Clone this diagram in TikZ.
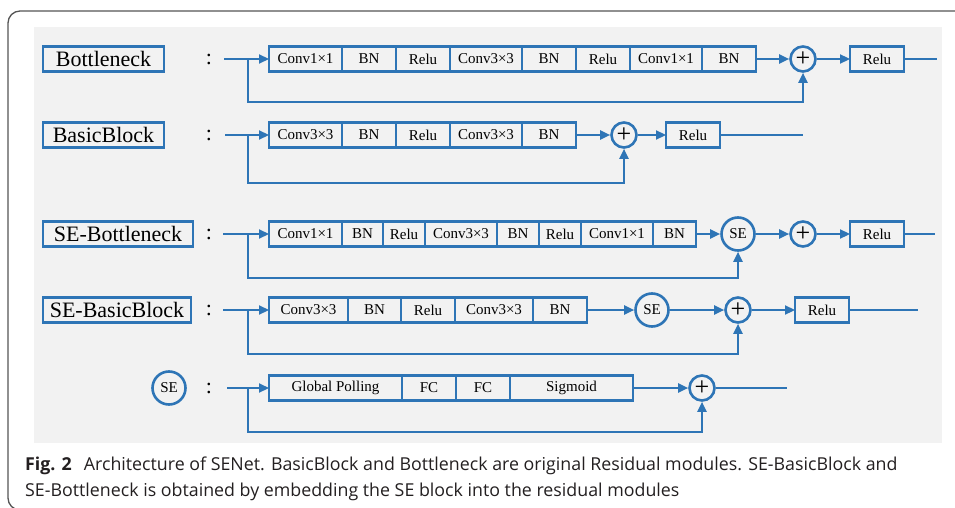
\documentclass[tikz,border=0pt]{standalone}
\usepackage{fontspec}
\setmainfont{Liberation Serif}
\newfontfamily\capfont{Open Sans}
\usepackage{tikz}
\usetikzlibrary{arrows.meta,positioning}
\definecolor{netblue}{RGB}{46,117,182}
\definecolor{panelgray}{RGB}{242,242,242}
\definecolor{framegray}{RGB}{85,85,85}
\definecolor{captext}{RGB}{35,31,32}
\tikzstyle{layer} = [rectangle, draw=netblue, line width=2.6pt, minimum height=25pt, inner sep=0pt, outer sep=0pt, font=\fontsize{15}{17}\selectfont]
\tikzstyle{title} = [layer, anchor=west, font=\fontsize{22}{24}\selectfont]
\tikzstyle{addop} = [circle, draw=netblue, line width=2.6pt, minimum size=25pt, inner sep=0pt, font=\fontsize{26}{26}\selectfont]
\tikzstyle{seop} = [circle, draw=netblue, line width=2.6pt, minimum size=33pt, inner sep=0pt, font=\fontsize{15}{17}\selectfont]
\tikzstyle{colon} = [inner sep=0pt, font=\fontsize{22}{24}\selectfont]
\tikzstyle{line} = [draw, line width=2.2pt, color=netblue, -{Triangle[length=10pt,width=9pt]}]
\tikzstyle{wire} = [draw, line width=2.2pt, color=netblue]
\tikzstyle{captxt} = [anchor=base west, inner sep=0pt, text=captext, font=\capfont\fontsize{17.8}{26}\selectfont]

\begin{document}
\begin{tikzpicture}[x=1pt, y=-1pt]
		\useasboundingbox (0,0) rectangle (955,508);
		% Frame and panel
		\begin{scope}
			\clip (0,0) rectangle (955,508);
			\draw [framegray, line width=1.3pt, rounded corners=12pt] (990,11) -- (8,11) -- (8,510) -- (990,510);
		\end{scope}
		\fill [panelgray] (34,27) rectangle (942,443);
		% Bottleneck
		\node [title, minimum width=121pt] (bneck) at (43,59) {Bottleneck};
		\node [colon] (c1) at (209,59) {:};
		\coordinate (in1) at (224,59);
		\coordinate (br1) at (248,59);
		\coordinate (sk1) at (248,102);
		\coordinate (out1) at (937,59);
		\node [layer, anchor=west, minimum width=73pt] (b1a) at (269,59) {Conv1×1};
		\node [layer, right=0pt of b1a, minimum width=54pt] (b1b) {BN};
		\node [layer, right=0pt of b1b, minimum width=54pt] (b1c) {Relu};
		\node [layer, right=0pt of b1c, minimum width=72pt] (b1d) {Conv3×3};
		\node [layer, right=0pt of b1d, minimum width=54pt] (b1e) {BN};
		\node [layer, right=0pt of b1e, minimum width=54pt] (b1f) {Relu};
		\node [layer, right=0pt of b1f, minimum width=72pt] (b1g) {Conv1×1};
		\node [layer, right=0pt of b1g, minimum width=54pt] (b1h) {BN};
		\node [addop] (add1) at (803,59) {+};
		\node [layer, anchor=west, minimum width=54pt] (relu1) at (850,59) {Relu};
		\path [line] (in1) -- (b1a);
		\path [line] (b1h) -- (add1);
		\path [line] (add1) -- (relu1);
		\path [wire] (relu1) -- (out1);
		\path [line] (br1) -- (sk1) -| (add1);
		% BasicBlock
		\node [title, minimum width=121pt] (basic) at (43,135) {BasicBlock};
		\node [colon] (c2) at (209,135) {:};
		\coordinate (in2) at (225,135);
		\coordinate (br2) at (248,135);
		\coordinate (sk2) at (248,183);
		\coordinate (out2) at (803,135);
		\node [layer, anchor=west, minimum width=73pt] (b2a) at (269,135) {Conv3×3};
		\node [layer, right=0pt of b2a, minimum width=54pt] (b2b) {BN};
		\node [layer, right=0pt of b2b, minimum width=54pt] (b2c) {Relu};
		\node [layer, right=0pt of b2c, minimum width=72pt] (b2d) {Conv3×3};
		\node [layer, right=0pt of b2d, minimum width=54pt] (b2e) {BN};
		\node [addop] (add2) at (624,135) {+};
		\node [layer, anchor=west, minimum width=54pt] (relu2) at (666,135) {Relu};
		\path [line] (in2) -- (b2a);
		\path [line] (b2e) -- (add2);
		\path [line] (add2) -- (relu2);
		\path [wire] (relu2) -- (out2);
		\path [line] (br2) -- (sk2) -| (add2);
		% SE-Bottleneck
		\node [title, minimum width=150pt] (sebneck) at (43,234) {SE-Bottleneck};
		\node [colon] (c3) at (209,234) {:};
		\coordinate (in3) at (223,234);
		\coordinate (br3) at (248,234);
		\coordinate (sk3) at (248,278);
		\coordinate (out3) at (935,234);
		\node [layer, anchor=west, minimum width=73pt] (b3a) at (269,234) {Conv1×1};
		\node [layer, right=0pt of b3a, minimum width=41pt] (b3b) {BN};
		\node [layer, right=0pt of b3b, minimum width=42pt] (b3c) {Relu};
		\node [layer, right=0pt of b3c, minimum width=72pt] (b3d) {Conv3×3};
		\node [layer, right=0pt of b3d, minimum width=42pt] (b3e) {BN};
		\node [layer, right=0pt of b3e, minimum width=42pt] (b3f) {Relu};
		\node [layer, right=0pt of b3f, minimum width=72pt] (b3g) {Conv1×1};
		\node [layer, right=0pt of b3g, minimum width=43pt] (b3h) {BN};
		\node [seop] (se3) at (738,234) {SE};
		\node [addop] (add3) at (803,234) {+};
		\node [layer, anchor=west, minimum width=54pt] (relu3) at (850,234) {Relu};
		\path [line] (in3) -- (b3a);
		\path [line] (b3h) -- (se3);
		\path [line] (se3) -- (add3);
		\path [line] (add3) -- (relu3);
		\path [wire] (relu3) -- (out3);
		\path [line] (br3) -- (sk3) -| (se3);
		% SE-BasicBlock
		\node [title, minimum width=148pt] (sebasic) at (43,310) {SE-BasicBlock};
		\node [colon] (c4) at (209,310) {:};
		\coordinate (in4) at (223,310);
		\coordinate (br4) at (248,310);
		\coordinate (sk4) at (248,354);
		\coordinate (out4) at (918,310);
		\node [layer, anchor=west, minimum width=79pt] (b4a) at (269,310) {Conv3×3};
		\node [layer, right=0pt of b4a, minimum width=53pt] (b4b) {BN};
		\node [layer, right=0pt of b4b, minimum width=54pt] (b4c) {Relu};
		\node [layer, right=0pt of b4c, minimum width=78pt] (b4d) {Conv3×3};
		\node [layer, right=0pt of b4d, minimum width=54pt] (b4e) {BN};
		\node [seop] (se4) at (652,310) {SE};
		\node [addop] (add4) at (738,310) {+};
		\node [layer, anchor=west, minimum width=54pt] (relu4) at (795,310) {Relu};
		\path [line] (in4) -- (b4a);
		\path [line] (b4e) -- (se4);
		\path [line] (se4) -- (add4);
		\path [line] (add4) -- (relu4);
		\path [wire] (relu4) -- (out4);
		\path [line] (br4) -- (sk4) -| (add4);
		% SE block
		\node [seop] (seblk) at (169,388) {SE};
		\node [colon] (c5) at (209,388) {:};
		\coordinate (in5) at (227,388);
		\coordinate (br5) at (248,388);
		\coordinate (sk5) at (248,432);
		\coordinate (out5) at (787,388);
		\node [layer, anchor=west, minimum width=133pt] (b5a) at (269,388) {Global Polling};
		\node [layer, right=0pt of b5a, minimum width=54pt] (b5b) {FC};
		\node [layer, right=0pt of b5b, minimum width=54pt] (b5c) {FC};
		\node [layer, right=0pt of b5c, minimum width=123pt] (b5d) {Sigmoid};
		\node [addop] (add5) at (702,388) {+};
		\path [line] (in5) -- (b5a);
		\path [line] (b5d) -- (add5);
		\path [wire] (add5) -- (out5);
		\path [line] (br5) -- (sk5) -| (add5);
		% Caption
		\node [captxt] (cap1) at (25,470) {\textbf{Fig. 2}\hspace{12pt}Architecture of SENet. BasicBlock and Bottleneck are original Residual modules. SE-BasicBlock and};
		\node [captxt] (cap2) at (25,496) {SE-Bottleneck is obtained by embedding the SE block into the residual modules};
	\end{tikzpicture}
\end{document}
